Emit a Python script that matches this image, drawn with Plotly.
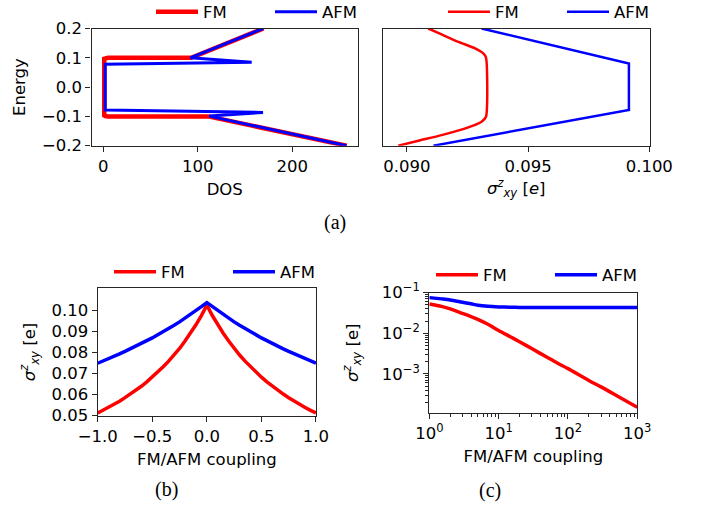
import plotly.graph_objects as go

# ---------------- data ----------------
# (a) density of states vs energy
dos_fm_energy = [0.2, 0.1, 0.1, 0.099, 0.097, -0.097, -0.099, -0.1, -0.1, -0.2]
dos_fm_value = [169.5, 93.0, 5.0, 2.0, 1.0, 1.0, 2.0, 5.0, 111.0, 257.5]
dos_afm_energy = [0.2, 0.1, 0.0852, 0.0795, 0.078, -0.078, -0.0784, -0.0864, -0.099, -0.2]
dos_afm_value = [169.0, 92.0, 157.0, 3.0, 2.0, 2.0, 3.0, 169.0, 112.0, 257.5]

# (a) spin Hall conductivity vs energy
sig_fm_energy = [0.2, 0.1797, 0.1545, 0.132, 0.115, 0.101, -0.101, -0.118, -0.1375, -0.164, -0.183, -0.2]
sig_fm_value = [0.09088, 0.09143, 0.09212, 0.09281, 0.09315, 0.09326, 0.09326, 0.09308, 0.09253, 0.09143, 0.09047, 0.08964]
sig_afm_energy = [0.2, 0.0807, -0.0784, -0.2]
sig_afm_value = [0.09308, 0.09916, 0.09916, 0.09109]

# (b) conductivity vs coupling (linear)
coupling_lin = [-1.0, -0.95, -0.9, -0.85, -0.8, -0.75, -0.7, -0.65, -0.6, -0.55, -0.5,
                -0.45, -0.4, -0.35, -0.3, -0.25, -0.2, -0.15, -0.1, -0.05, 0.0,
                0.05, 0.1, 0.15, 0.2, 0.25, 0.3, 0.35, 0.4, 0.45, 0.5,
                0.55, 0.6, 0.65, 0.7, 0.75, 0.8, 0.85, 0.9, 0.95, 1.0]
sig_fm_lin = [0.0512, 0.0525, 0.0538, 0.0553, 0.0568, 0.0585, 0.0602, 0.0620, 0.0639, 0.0660, 0.0682,
              0.0706, 0.0731, 0.0758, 0.0787, 0.0818, 0.0853, 0.0890, 0.0930, 0.0974, 0.1023,
              0.0974, 0.0930, 0.0890, 0.0853, 0.0818, 0.0787, 0.0758, 0.0731, 0.0706, 0.0682,
              0.0660, 0.0639, 0.0620, 0.0602, 0.0585, 0.0568, 0.0553, 0.0538, 0.0525, 0.0512]
sig_afm_lin = [0.0748, 0.0758, 0.0769, 0.0780, 0.0792, 0.0804, 0.0816, 0.0828, 0.0841, 0.0855, 0.0868,
               0.0883, 0.0897, 0.0912, 0.0928, 0.0944, 0.0961, 0.0979, 0.0997, 0.1016, 0.1035,
               0.1016, 0.0997, 0.0979, 0.0961, 0.0944, 0.0928, 0.0912, 0.0897, 0.0883, 0.0868,
               0.0855, 0.0841, 0.0828, 0.0816, 0.0804, 0.0792, 0.0780, 0.0769, 0.0758, 0.0748]

# (c) conductivity vs coupling (log-log)
coupling_log = [1, 1.5, 2, 3, 4, 5, 7, 10, 15, 20, 30, 50, 70, 100, 200, 300, 500, 1000]
sig_fm_log = [0.0525, 0.0457, 0.0398, 0.0309, 0.0257, 0.0219, 0.0166, 0.0117, 0.0081, 0.0062,
              0.0042, 0.00257, 0.00186, 0.00135, 0.00069, 0.00048, 0.000295, 0.000151]
sig_afm_log = [0.0752, 0.0700, 0.0660, 0.0580, 0.0530, 0.0490, 0.0460, 0.0445, 0.0436, 0.0432,
               0.0429, 0.0428, 0.0427, 0.0427, 0.0427, 0.0427, 0.0427, 0.0427]

log_tick_vals_x = [1, 10, 100, 1000]
log_tick_text_x = ["10<sup>0</sup>", "10<sup>1</sup>", "10<sup>2</sup>", "10<sup>3</sup>"]
log_tick_vals_y = [0.001, 0.01, 0.1]
log_tick_text_y = ["10<sup>−3</sup>", "10<sup>−2</sup>", "10<sup>−1</sup>"]

RED = "#ff0000"
BLUE = "#0000ff"
FONT = "DejaVu Sans"
FS = 16.5
W, H = 714, 510

fig = go.Figure()

# (a) left: DOS
fig.add_trace(go.Scatter(x=dos_fm_value, y=dos_fm_energy, mode="lines", name="FM",
                         line=dict(color=RED, width=4.5), xaxis="x", yaxis="y", legend="legend"))
fig.add_trace(go.Scatter(x=dos_afm_value, y=dos_afm_energy, mode="lines", name="AFM",
                         line=dict(color=BLUE, width=3), xaxis="x", yaxis="y", legend="legend"))
# (a) right: conductivity vs energy
fig.add_trace(go.Scatter(x=sig_fm_value, y=sig_fm_energy, mode="lines", name="FM",
                         line=dict(color=RED, width=2.5, shape="spline", smoothing=0.6),
                         xaxis="x2", yaxis="y2", legend="legend2"))
fig.add_trace(go.Scatter(x=sig_afm_value, y=sig_afm_energy, mode="lines", name="AFM",
                         line=dict(color=BLUE, width=2.5), xaxis="x2", yaxis="y2", legend="legend2"))
# (b)
fig.add_trace(go.Scatter(x=coupling_lin, y=sig_fm_lin, mode="lines", name="FM",
                         line=dict(color=RED, width=3.5), xaxis="x3", yaxis="y3", legend="legend3"))
fig.add_trace(go.Scatter(x=coupling_lin, y=sig_afm_lin, mode="lines", name="AFM",
                         line=dict(color=BLUE, width=3.5), xaxis="x3", yaxis="y3", legend="legend3"))
# (c)
fig.add_trace(go.Scatter(x=coupling_log, y=sig_fm_log, mode="lines", name="FM",
                         line=dict(color=RED, width=3.5, shape="spline", smoothing=0.8),
                         xaxis="x4", yaxis="y4", legend="legend4"))
fig.add_trace(go.Scatter(x=coupling_log, y=sig_afm_log, mode="lines", name="AFM",
                         line=dict(color=BLUE, width=3.5, shape="spline", smoothing=0.8),
                         xaxis="x4", yaxis="y4", legend="legend4"))


def dom_x(a, b):
    return [a / W, b / W]


def dom_y(top, bottom):
    return [1 - bottom / H, 1 - top / H]


axis_common = dict(showline=True, mirror=True, linecolor="#262626", linewidth=1.2,
                   ticks="outside", ticklen=5, tickwidth=1.2, tickcolor="#262626",
                   showgrid=False, zeroline=False, automargin=False,
                   tickfont=dict(family=FONT, size=FS, color="black"))

sigma_title = "<i>σ</i><sup><i>z</i></sup><sub><i>xy</i></sub> [<i>e</i>]"
sigma_title_b = "<i>σ</i><sup><i>z</i></sup><sub><i>xy</i></sub> [e]"

fig.update_layout(
    template="none",
    width=W, height=H, margin=dict(l=0, r=0, t=0, b=0, autoexpand=False),
    paper_bgcolor="white", plot_bgcolor="white",
    font=dict(family=FONT, size=FS, color="black"),
    xaxis=dict(axis_common, domain=dom_x(91.5, 358), range=[-12.5, 269.5],
               tickvals=[0, 100, 200], anchor="y",
               title=dict(text="DOS", standoff=8, font=dict(size=FS))),
    yaxis=dict(axis_common, domain=dom_y(28.5, 145.7), range=[-0.2, 0.2],
               tickvals=[-0.2, -0.1, 0.0, 0.1, 0.2], tickformat=".1f", anchor="x",
               title=dict(text="Energy", standoff=12, font=dict(size=FS))),
    xaxis2=dict(axis_common, domain=dom_x(383, 649.5), range=[0.08901, 0.10001],
                tickvals=[0.090, 0.095, 0.100], tickformat=".3f", anchor="y2",
                title=dict(text=sigma_title, standoff=6, font=dict(size=FS))),
    yaxis2=dict(axis_common, domain=dom_y(28.5, 145.7), range=[-0.2, 0.2],
                showticklabels=False, ticks="", anchor="x2"),
    xaxis3=dict(axis_common, domain=dom_x(97.7, 316), range=[-1.0001, 1.0001],
                tickvals=[-1.0, -0.5, 0.0, 0.5, 1.0], tickformat=".1f", anchor="y3",
                title=dict(text="FM/AFM coupling", standoff=8, font=dict(size=FS))),
    yaxis3=dict(axis_common, domain=dom_y(288.3, 415.7), range=[0.04995, 0.1103],
                tickvals=[0.05, 0.06, 0.07, 0.08, 0.09, 0.10], tickformat=".2f", anchor="x3",
                title=dict(text=sigma_title_b, standoff=11, font=dict(size=FS))),
    xaxis4=dict(axis_common, domain=dom_x(429.3, 637.3), type="log", range=[-0.0005, 3.0005],
                tickmode="array", tickvals=log_tick_vals_x, ticktext=log_tick_text_x, anchor="y4",
                minor=dict(ticks="outside", ticklen=3, tickwidth=1, tickcolor="#262626",
                           tickmode="array",
                           tickvals=[m * 10 ** e for e in range(3) for m in range(2, 10)]),
                title=dict(text="FM/AFM coupling", standoff=8, font=dict(size=FS))),
    yaxis4=dict(axis_common, domain=dom_y(292.5, 413), type="log", range=[-3.96, -0.998],
                tickmode="array", tickvals=log_tick_vals_y, ticktext=log_tick_text_y, anchor="x4",
                minor=dict(ticks="outside", ticklen=3, tickwidth=1, tickcolor="#262626",
                           tickmode="array",
                           tickvals=[m * 10 ** e for e in range(-4, -1) for m in range(2, 10)]),
                title=dict(text=sigma_title_b, standoff=19, font=dict(size=FS))),
)

legend_common = dict(orientation="h", xanchor="left", yanchor="middle",
                     bgcolor="rgba(0,0,0,0)", borderwidth=0,
                     font=dict(family=FONT, size=FS, color="black"),
                     itemwidth=42, entrywidth=62, entrywidthmode="pixels")
fig.update_layout(
    legend=dict(legend_common, x=151 / W, y=1 - 12 / H),
    legend2=dict(legend_common, x=443 / W, y=1 - 12 / H),
    legend3=dict(legend_common, x=109 / W, y=1 - 272 / H),
    legend4=dict(legend_common, x=431 / W, y=1 - 275 / H),
)

# panel labels
for label, px, py in [("(a)", 335, 222), ("(b)", 166, 489), ("(c)", 490, 490)]:
    fig.add_annotation(text=label, x=px / W, y=1 - py / H, xref="paper", yref="paper",
                       xanchor="center", yanchor="middle", showarrow=False,
                       font=dict(family="Liberation Serif", size=20, color="black"))

fig.write_html("out.html")
